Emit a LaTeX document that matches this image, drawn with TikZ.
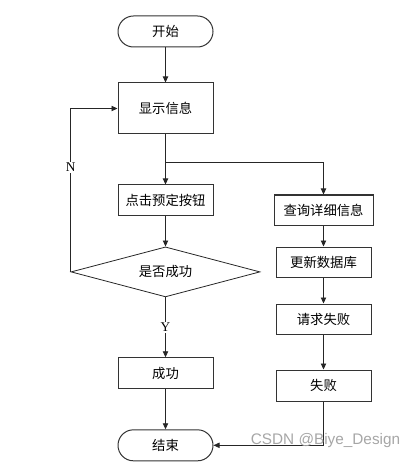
\documentclass[tikz,border=0pt]{standalone}
\usepackage{fontspec}
\setmainfont{Liberation Serif}
\newfontfamily\cjk{Noto Sans CJK SC}
\newfontfamily\marksans{Liberation Sans}
\usetikzlibrary{
  arrows.meta,
  positioning,
  shapes.geometric
}
\tikzset{
  block/.style={
    draw=black!80,
    line width=0.75pt,
    minimum width=71.25pt,
    minimum height=22.5pt,
    inner sep=2pt,
    align=center,
    font=\cjk\fontsize{10}{12}\selectfont
  },
  terminal/.style={block, minimum height=23.25pt, rounded corners=11.6pt},
  decision/.style={
    diamond,
    draw=black!85,
    line width=0.6pt,
    aspect=3.78,
    minimum width=141.75pt,
    minimum height=37.5pt,
    inner sep=0pt,
    font=\cjk\fontsize{10}{12}\selectfont
  },
  arrow/.style={-{Triangle[length=4.5pt, width=4pt]}, line width=0.6pt, draw=black!85},
  yn/.style={fill=white, inner sep=1pt, font=\fontsize{10}{12}\selectfont}
}
\begin{document}
\begin{tikzpicture}[x=0.75pt, y=-0.75pt]
  \useasboundingbox (0,0) rectangle (417,463);

  \node[terminal] (start) at (165.5,31.5) {开始};
  \node[block, minimum height=38.25pt, below=26.25pt of start] (show) {显示信息};
  \node[block, below=37.5pt of show] (click) {点击预定按钮};
  \node[decision, below=23.25pt of click] (judge) {是否成功};
  \node[block, minimum height=23.25pt, below=45pt of judge] (ok) {成功};
  \node[terminal, below=30pt of ok] (end) {结束};

  \node[block, minimum width=74.25pt, right=45pt of click, yshift=-7.5pt] (query)
    {查询详细信息};
  \node[block, below=15.75pt of query] (update) {更新数据库};
  \node[block, below=19.5pt of update] (request) {请求失败};
  \node[block, minimum height=23.25pt, below=26.25pt of request] (fail) {失败};

  \coordinate[below=21pt of show.south] (fork);

  \draw[arrow] (start) -- (show);
  \draw[arrow] (show) -- (click);
  \draw[arrow] (fork) -| (query);
  \draw[arrow] (click) -- (judge);
  \draw[arrow] (judge) -- node[yn] {Y} (ok);
  \draw[arrow] (ok) -- (end);
  \draw[arrow] (judge.west) |- node[yn, pos=0.32] {N} (show.west);
  \draw[arrow] (query) -- (update);
  \draw[arrow] (update) -- (request);
  \draw[arrow] (request) -- (fail);
  \draw[arrow] (fail) |- (end);

  \node[font=\marksans\fontsize{11.5}{13}\selectfont, text=black!35] (watermark)
    at (325.5,441) {CSDN @Biye\_Design};
\end{tikzpicture}
\end{document}
